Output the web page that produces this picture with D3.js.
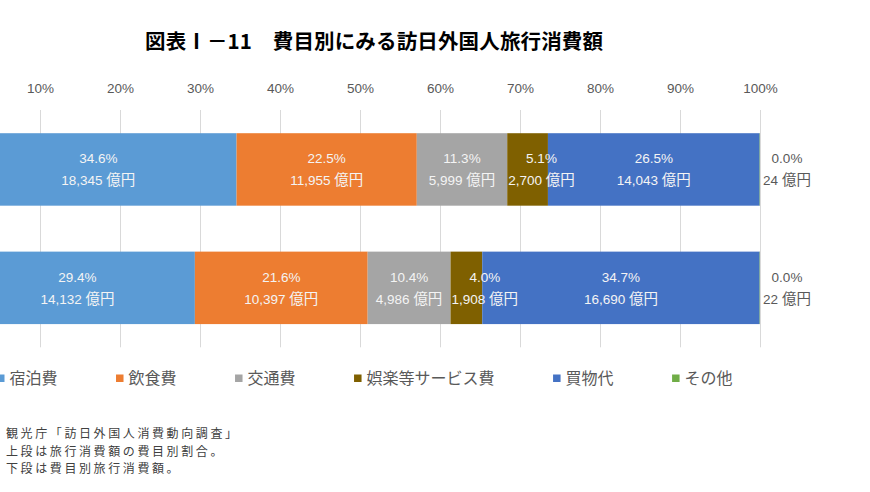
<!DOCTYPE html>
<html><head><meta charset="utf-8">
<script src="https://cdn.jsdelivr.net/npm/d3@7"></script>
<style>body{margin:0;background:#fff;}svg{display:block;}</style>
</head><body>
<svg id="chart" width="870" height="492"></svg>
<script>
// ---- data ----
const categories = ["2023年", "2019年"];
const seriesNames = ["宿泊費", "飲食費", "交通費", "娯楽等サービス費", "買物代", "その他"];
const seriesColors = ["#5B9BD5", "#ED7D31", "#A5A5A5", "#7F6000", "#4472C4", "#70AD47"];
const amounts2023 = [18345, 11955, 5999, 2700, 14043, 24];
const amounts2019 = [14132, 10397, 4986, 1908, 16690, 22];
const tickValues = [0.1, 0.2, 0.3, 0.4, 0.5, 0.6, 0.7, 0.8, 0.9, 1.0];
const tickLabels = ["10%", "20%", "30%", "40%", "50%", "60%", "70%", "80%", "90%", "100%"];
const titleText = "図表Ⅰ－11　費目別にみる訪日外国人旅行消費額";
const noteLines = ["観光庁「訪日外国人消費動向調査」", "上段は旅行消費額の費目別割合。", "下段は費目別旅行消費額。"];
const unitText = "億円";

// ---- build table ----
const amountsByCat = [amounts2023, amounts2019];
const rows = categories.map((c, i) => {
  const vals = amountsByCat[i];
  const total = d3.sum(vals);
  let cum = 0;
  return vals.map((v, j) => {
    const s = { cat: c, series: j, value: v, x0: cum / total, x1: (cum + v) / total,
      pct: (v / total * 100).toFixed(1) + "%" };
    cum += v;
    return s;
  });
});

const svg = d3.select("#chart");
const plotTop = 110, plotBottom = 347.3;
const x = d3.scaleLinear().domain([0, 1]).range([-40, 760]);
const y = d3.scaleBand().domain(categories).range([plotTop, plotBottom])
  .paddingInner(0.388).paddingOuter(0.196);

const numFont = "'Liberation Sans', 'Noto Sans CJK JP', sans-serif";
const jpFont = "'Noto Sans CJK JP', sans-serif";

// title
svg.append("text")
  .attr("x", 145).attr("y", 42).attr("dy", "0.35em")
  .attr("font-family", jpFont).attr("font-weight", "bold").attr("font-size", 20.5)
  .attr("fill", "#000")
  .attr("textLength", 458).attr("lengthAdjust", "spacing")
  .text(titleText);

// gridlines
const grid = svg.append("g").attr("transform", `translate(0,${plotTop})`)
  .call(d3.axisBottom(x).tickValues(tickValues).tickSize(plotBottom - plotTop).tickFormat(""));
grid.select(".domain").remove();
grid.selectAll("line").attr("stroke", "#d9d9d9").attr("stroke-width", 1);

// top axis labels
const ax = svg.append("g").attr("transform", `translate(0,${plotTop})`)
  .call(d3.axisTop(x).tickValues(tickValues).tickSize(0).tickPadding(17.5)
    .tickFormat((d, i) => tickLabels[i]));
ax.select(".domain").remove();
ax.selectAll("text").attr("font-family", numFont).attr("font-size", 13.5).attr("fill", "#595959");

// bars
const gRows = svg.append("g").selectAll("g").data(rows).join("g");
gRows.selectAll("rect").data(d => d).join("rect")
  .attr("x", d => x(d.x0))
  .attr("y", d => y(d.cat))
  .attr("width", d => x(d.x1) - x(d.x0))
  .attr("height", y.bandwidth())
  .attr("fill", d => seriesColors[d.series]);

// labels
const fmt = d3.format(",");
rows.forEach(row => {
  row.forEach(d => {
    const segW = x(d.x1) - x(d.x0);
    const cy = y(d.cat) + y.bandwidth() / 2;
    const outside = segW < 5;
    const g = svg.append("g");
    const color = outside ? "#595959" : "#f4f4f4";
    const t1 = g.append("text").attr("text-anchor", "middle")
      .attr("font-family", numFont).attr("font-size", 13.5).attr("fill", color)
      .attr("y", cy - 11).attr("dy", "0.35em").text(d.pct);
    const t2 = g.append("text").attr("text-anchor", "middle")
      .attr("font-family", numFont).attr("font-size", 13.5).attr("fill", color)
      .attr("y", cy + 11).attr("dy", "0.35em");
    t2.append("tspan").text(fmt(d.value) + " ");
    t2.append("tspan").attr("font-family", jpFont).attr("font-size", 14.5).text(unitText);
    const bw = Math.max(t1.node().getComputedTextLength(), t2.node().getComputedTextLength());
    let cx;
    if (outside) cx = x(1) + 27;
    else if (segW < bw + 6) cx = x(d.x0) + 1 + bw / 2;
    else cx = (x(d.x0) + x(d.x1)) / 2;
    t1.attr("x", cx); t2.attr("x", cx);
  });
});

// legend
const leg = svg.append("g");
let lx = -3;
const ly = 378;
seriesNames.forEach((n, i) => {
  leg.append("rect").attr("x", lx).attr("y", ly - 3.5).attr("width", 7.5).attr("height", 7.5)
    .attr("fill", seriesColors[i]);
  const t = leg.append("text").attr("x", lx + 12.5).attr("y", ly).attr("dy", "0.35em")
    .attr("font-family", jpFont).attr("font-size", 16).attr("fill", "#595959").text(n);
  lx = lx + 12.5 + t.node().getComputedTextLength() + 58.5;
});

// notes
svg.append("g").selectAll("text").data(noteLines).join("text")
  .attr("x", 6).attr("y", (d, i) => 434 + i * 17.5).attr("dy", "0.35em")
  .attr("font-family", jpFont).attr("font-size", 12).attr("letter-spacing", 2.6)
  .attr("fill", "#404040")
  .text(d => d);
</script>
</body></html>
